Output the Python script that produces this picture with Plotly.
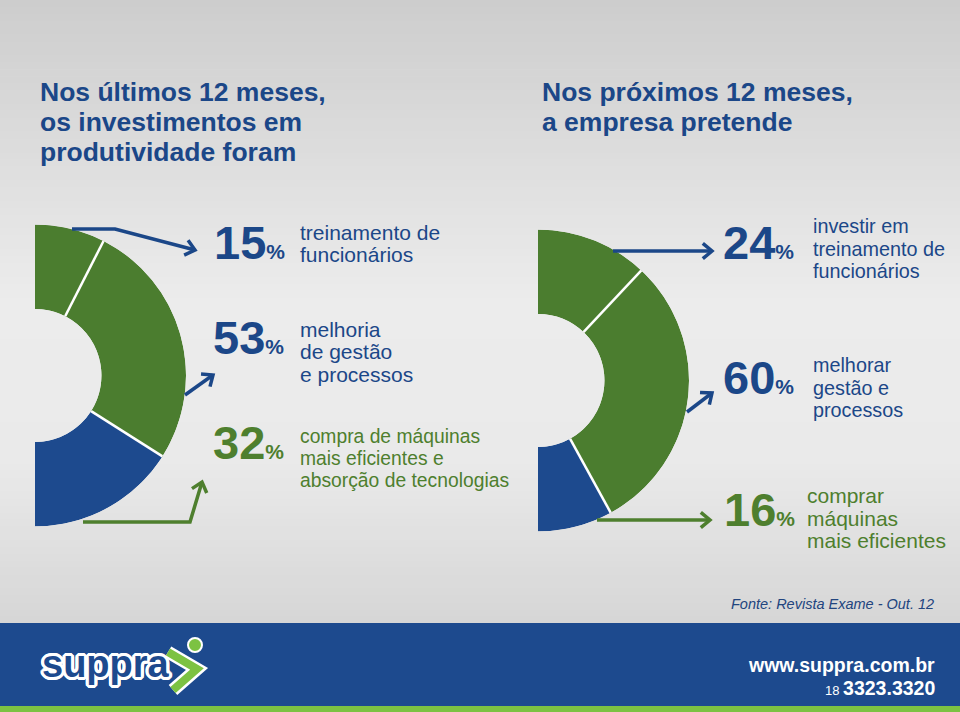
import math
import plotly.graph_objects as go

# ---------------- data ----------------
left_values = [15, 53, 32]
left_labels = [["treinamento de", "funcionários"],
               ["melhoria", "de gestão", "e processos"],
               ["compra de máquinas", "mais eficientes e", "absorção de tecnologias"]]
right_values = [24, 60, 16]
right_labels = [["investir em", "treinamento de", "funcionários"],
                ["melhorar", "gestão e", "processos"],
                ["comprar", "máquinas", "mais eficientes"]]
left_title = ["Nos últimos 12 meses,", "os investimentos em", "produtividade foram"]
right_title = ["Nos próximos 12 meses,", "a empresa pretende"]
source = "Fonte: Revista Exame - Out. 12"

# ---------------- style ----------------
W, H = 960, 712
GREEN = "#4b7d2f"
BLUE = "#1d4a8e"
TXT_BLUE = "#1b4788"
TXT_GREEN = "#4e7f2e"
BAND = "#1d4a8e"
LIME = "#7cc242"
FONT = "Liberation Sans, Arial, Helvetica, sans-serif"
slice_colors = [GREEN, GREEN, BLUE]
left_text_colors = [TXT_BLUE, TXT_BLUE, TXT_GREEN]
right_slice_colors = [GREEN, GREEN, BLUE]
right_text_colors = [TXT_BLUE, TXT_BLUE, TXT_GREEN]


def px(x):
    return x / W


def py(y):
    return 1 - y / H


fig = go.Figure()
shapes = []
annotations = []

# background gradient (stacked bands)
stops = [(0, 205), (300, 236), (460, 234), (623, 214)]
N = 90
for i in range(N):
    y0 = 623 * i / N
    y1 = 623 * (i + 1) / N + 0.6
    ym = (y0 + y1) / 2
    for (a, ca), (b, cb) in zip(stops[:-1], stops[1:]):
        if a <= ym <= b:
            c = int(round(ca + (cb - ca) * (ym - a) / (b - a)))
            break
    shapes.append(dict(type="rect", xref="paper", yref="paper", x0=0, x1=1,
                       y0=py(min(y1, 623)), y1=py(y0), fillcolor=f"rgb({c},{c},{c})",
                       line=dict(width=0), layer="below"))
shapes.append(dict(type="rect", xref="paper", yref="paper", x0=0, x1=1, y0=py(706), y1=py(623),
                   fillcolor=BAND, line=dict(width=0), layer="below"))
shapes.append(dict(type="rect", xref="paper", yref="paper", x0=0, x1=1, y0=0, y1=py(706),
                   fillcolor=LIME, line=dict(width=0), layer="below"))


# ---------------- half donuts ----------------
def half_donut(values, colors, polar_name, cx, cy, R, hole):
    total = sum(values)
    widths = [180 * v / total for v in values]
    centers, bounds, acc = [], [], 0
    for w in widths:
        centers.append(acc + w / 2)
        acc += w
        bounds.append(acc)
    fig.add_trace(go.Barpolar(r=[1] * len(values), theta=centers, width=widths,
                              marker=dict(color=colors, line=dict(width=0)),
                              subplot=polar_name, hoverinfo="skip", showlegend=False))
    for b in bounds[:-1]:
        fig.add_trace(go.Scatterpolar(r=[0, 1], theta=[b, b], mode="lines",
                                      line=dict(color="white", width=2.5),
                                      subplot=polar_name, hoverinfo="skip", showlegend=False))
    return dict(domain=dict(x=[px(cx), px(cx + R)], y=[py(cy + R), py(cy - R)]),
                sector=[-90, 90], hole=hole, bgcolor="rgba(0,0,0,0)",
                radialaxis=dict(visible=False, range=[0, 1]),
                angularaxis=dict(visible=False, rotation=90, direction="clockwise"))


polar1 = half_donut(left_values, slice_colors, "polar", 35, 375.5, 151, 0.44)
polar2 = half_donut(right_values, right_slice_colors, "polar2", 538, 380.5, 151, 0.44)


# ---------------- arrows ----------------
def arrow(points, color, width=3.5, head=12):
    d = "M " + " L ".join(f"{px(x)},{py(y)}" for x, y in points)
    shapes.append(dict(type="path", xref="paper", yref="paper", path=d,
                       line=dict(color=color, width=width)))
    (x0, y0), (x1, y1) = points[-2], points[-1]
    L = math.hypot(x1 - x0, y1 - y0)
    ux, uy = (x1 - x0) / L, (y1 - y0) / L
    wings = []
    for ang in (40, -40):
        a = math.radians(ang)
        rx = ux * math.cos(a) - uy * math.sin(a)
        ry = ux * math.sin(a) + uy * math.cos(a)
        wings.append((x1 - head * rx, y1 - head * ry))
    p = (f"M {px(wings[0][0])},{py(wings[0][1])} L {px(x1)},{py(y1)} "
         f"L {px(wings[1][0])},{py(wings[1][1])}")
    shapes.append(dict(type="path", xref="paper", yref="paper", path=p,
                       line=dict(color=color, width=width)))


arrow([(72, 229), (115, 229), (195, 250)], TXT_BLUE)
arrow([(185, 395), (213, 375)], TXT_BLUE)
arrow([(83, 522), (190, 522), (202, 482)], TXT_GREEN)
arrow([(613, 251), (712, 251)], TXT_BLUE)
arrow([(687, 412), (712, 393)], TXT_BLUE)
arrow([(597, 520), (710, 520)], TXT_GREEN)


# ---------------- text ----------------
def text(t, x, baseline, size, color, xanchor="left", family=FONT, **kw):
    annotations.append(dict(text=t, x=px(x), y=py(baseline - 0.35 * size), xref="paper",
                            yref="paper", xanchor=xanchor, yanchor="middle", showarrow=False,
                            font=dict(size=size, color=color, family=family), **kw))


for i, line in enumerate(left_title):
    text(f"<b>{line}</b>", 38, 101 + 30 * i, 26.5, TXT_BLUE)
for i, line in enumerate(right_title):
    text(f"<b>{line}</b>", 540, 101 + 30 * i, 26.5, TXT_BLUE)

PCT = "<span style='font-size:21px'><b>%</b></span>"

left_rows = [  # (number x, number baseline, label x, first label baseline, label size)
    (212, 258.5, 298, 240, 21),
    (211, 354, 298, 337, 21),
    (211, 459, 298, 443, 19.3),
]
for v, col, lines, (nx, nb, lx, lb, ls) in zip(left_values, left_text_colors, left_labels, left_rows):
    text(f"<b>{v}</b>{PCT}", nx, nb, 47, col)
    for j, ln in enumerate(lines):
        text(ln, lx, lb + 22.3 * j, ls, col)

right_rows = [
    (721, 258.5, 811, 233, 19.8),
    (721, 394, 811, 372, 19.8),
    (722, 526, 805, 503, 21),
]
for v, col, lines, (nx, nb, lx, lb, ls) in zip(right_values, right_text_colors, right_labels, right_rows):
    text(f"<b>{v}</b>{PCT}", nx, nb, 47, col)
    for j, ln in enumerate(lines):
        text(ln, lx, lb + 22.5 * j, ls, col)

text(f"<i>{source}</i>", 936, 609, 14.5, "#22457f", xanchor="right")
text("<b>www.suppra.com.br</b>", 937, 672, 19.5, "white", xanchor="right")
text("<span style='font-size:13px'>18 </span><b>3323.3320</b>", 937, 695, 19.5, "white", xanchor="right")

# logo
outline = ", ".join(f"white {dx}px {dy}px 0" for dx, dy in
                    [(3, 0), (-3, 0), (0, 3), (0, -3), (2, 2), (-2, -2), (2, -2), (-2, 2),
                     (3, 1), (-3, 1), (3, -1), (-3, -1), (1, 3), (-1, 3), (1, -3), (-1, -3)])
annotations.append(dict(text="<b>suppra</b>", x=px(40), y=py(664), xref="paper", yref="paper",
                        xanchor="left", yanchor="middle", showarrow=False,
                        font=dict(size=38, color=BAND, shadow=outline, family=FONT)))
chev = f"M {px(168)},{py(652)} L {px(197)},{py(669)} L {px(173)},{py(690)}"
shapes.append(dict(type="path", xref="paper", yref="paper", path=chev, line=dict(color="white", width=13)))
shapes.append(dict(type="path", xref="paper", yref="paper", path=chev, line=dict(color=LIME, width=8)))
shapes.append(dict(type="circle", xref="paper", yref="paper", x0=px(188), x1=px(202), y0=py(652), y1=py(638),
                   fillcolor=LIME, line=dict(color="white", width=2)))

fig.update_layout(width=W, height=H, margin=dict(l=0, r=0, t=0, b=0),
                  paper_bgcolor="#e6e6e6", plot_bgcolor="rgba(0,0,0,0)",
                  polar=polar1, polar2=polar2, shapes=shapes, annotations=annotations,
                  showlegend=False)
fig.write_html("out.html", config={"displayModeBar": False})
